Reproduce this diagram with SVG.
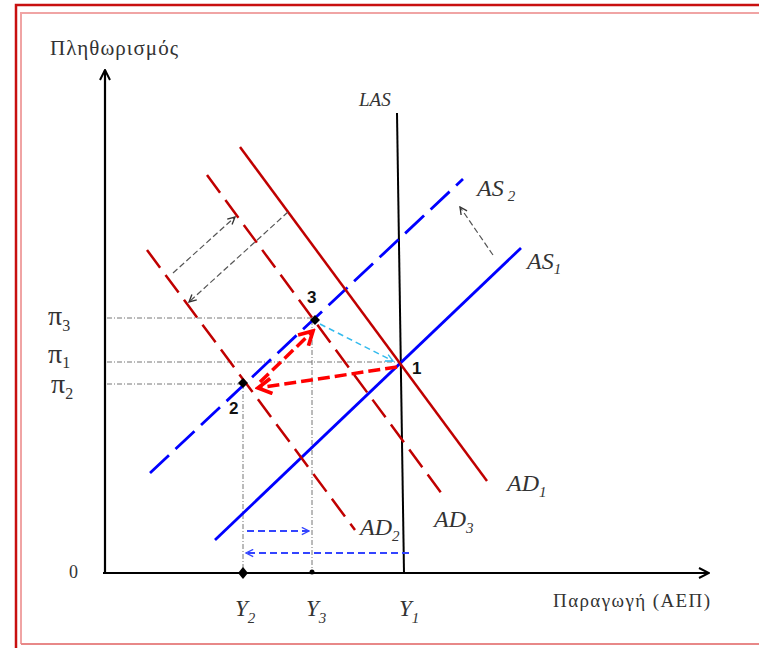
<svg xmlns="http://www.w3.org/2000/svg" width="759" height="648" viewBox="0 0 759 648">
<defs>
<style>
.lbl{font-family:"Liberation Serif","DejaVu Serif",serif;fill:#333}
.it{font-family:"Liberation Serif","DejaVu Serif",serif;font-style:italic;fill:#333}
.num{font-family:"Liberation Sans","DejaVu Sans",sans-serif;font-weight:bold;font-size:17px;fill:#111}
.guide{stroke:#777;stroke-width:1;stroke-dasharray:5 2 1 2;fill:none}
.ad{stroke:#c00000;stroke-width:2.5;fill:none}
.as{stroke:#0000ff;stroke-width:2.8;fill:none}
</style>
<marker id="axisHead" viewBox="0 0 12 12" refX="11" refY="6" markerWidth="12" markerHeight="12" markerUnits="userSpaceOnUse" orient="auto"><path d="M1,1 L11,6 L1,11" fill="none" stroke="#000" stroke-width="2"/></marker>
<marker id="redHead" viewBox="0 0 12 12" refX="10" refY="6" markerWidth="18" markerHeight="18" markerUnits="userSpaceOnUse" orient="auto"><path d="M1,1 L10,6 L1,11" fill="none" stroke="#ff0000" stroke-width="2.5"/></marker>
<marker id="greyHead" viewBox="0 0 10 10" refX="9" refY="5" markerWidth="9" markerHeight="9" markerUnits="userSpaceOnUse" orient="auto"><path d="M1,1 L9,5 L1,9" fill="none" stroke="#333" stroke-width="1.5"/></marker>
<marker id="blueHead" viewBox="0 0 10 10" refX="9" refY="5" markerWidth="9" markerHeight="9" markerUnits="userSpaceOnUse" orient="auto"><path d="M1,1 L9,5 L1,9" fill="none" stroke="#3344ff" stroke-width="1.5"/></marker>
<marker id="cyanHead" viewBox="0 0 10 10" refX="9" refY="5" markerWidth="9" markerHeight="9" markerUnits="userSpaceOnUse" orient="auto"><path d="M1,1 L9,5 L1,9" fill="none" stroke="#33bbee" stroke-width="1.5"/></marker>
</defs>
<rect width="759" height="648" fill="#fff"/>
<g id="frame">
<path d="M16,648 V5 H759" fill="none" stroke="#c81010" stroke-width="2.5"/>
<path d="M21,644 V13 H759" fill="none" stroke="#f0a4a4" stroke-width="2"/>
<path d="M21,644 H759" fill="none" stroke="#e88888" stroke-width="2"/>
</g>
<g id="axes">
<line x1="105" y1="573" x2="105" y2="70" stroke="#000" stroke-width="2.2" marker-end="url(#axisHead)"/>
<line x1="103" y1="573" x2="709" y2="573" stroke="#000" stroke-width="2.2" marker-end="url(#axisHead)"/>
<text class="lbl" x="50" y="55" font-size="21" textLength="128" lengthAdjust="spacing">Πληθωρισμός</text>
<text class="lbl" x="553" y="607" font-size="19" textLength="157" lengthAdjust="spacing">Παραγωγή (ΑΕΠ)</text>
<text class="lbl" x="69" y="578" font-size="18">0</text>
</g>
<g id="guides">
<line class="guide" x1="107" y1="318" x2="315" y2="318"/>
<line class="guide" x1="107" y1="362" x2="400" y2="362"/>
<line class="guide" x1="107" y1="384" x2="243" y2="384"/>
<line class="guide" x1="243" y1="384" x2="243" y2="573"/>
<line class="guide" x1="312" y1="320" x2="312" y2="573"/>
</g>
<g id="LAS">
<line x1="397" y1="113" x2="404" y2="573" stroke="#000" stroke-width="2"/>
<text class="it" x="359" y="106" font-size="19">LAS</text>
</g>
<g id="AS1">
<line class="as" x1="215" y1="540" x2="521" y2="248"/>
<text class="it" x="527" y="269" font-size="24">AS<tspan font-size="15" dy="5">1</tspan></text>
</g>
<g id="AS2">
<line class="as" x1="150" y1="473" x2="463" y2="179" stroke-dasharray="26 9"/>
<text class="it" x="477" y="196" font-size="24">AS<tspan font-size="15" dx="4" dy="5">2</tspan></text>
</g>
<g id="AD1">
<line class="ad" x1="240" y1="147" x2="487" y2="481"/>
<text class="it" x="507" y="491" font-size="24">AD<tspan font-size="15" dy="6">1</tspan></text>
</g>
<g id="AD3">
<line class="ad" x1="207" y1="175" x2="442" y2="494" stroke-dasharray="22 9"/>
<text class="it" x="434" y="527" font-size="24">AD<tspan font-size="15" dy="6">3</tspan></text>
</g>
<g id="AD2">
<line class="ad" x1="147" y1="250" x2="355" y2="530" stroke-dasharray="22 9"/>
<text class="it" x="360" y="535" font-size="24">AD<tspan font-size="15" dy="6">2</tspan></text>
</g>
<g id="pi-labels">
<text class="lbl" x="48" y="325" font-size="28">π<tspan font-size="16" dy="6">3</tspan></text>
<text class="lbl" x="48" y="363" font-size="28">π<tspan font-size="16" dy="5">1</tspan></text>
<text class="lbl" x="51" y="393" font-size="28">π<tspan font-size="16" dy="6">2</tspan></text>
</g>
<g id="Y-labels">
<path d="M243,567 L248,573 L243,579 L238,573 Z" fill="#000"/>
<circle cx="312" cy="572" r="2.5" fill="#000"/>
<text class="it" x="235" y="616" font-size="23">Y<tspan font-size="15" dy="7">2</tspan></text>
<text class="it" x="306" y="616" font-size="23">Y<tspan font-size="15" dy="7">3</tspan></text>
<text class="it" x="399" y="616" font-size="23">Y<tspan font-size="15" dy="7">1</tspan></text>
</g>
<g id="point1">
<text class="num" x="412" y="374">1</text>
</g>
<g id="point2">
<path d="M243,378 L248,383 L243,388 L238,383 Z" fill="#000"/>
<text class="num" x="229" y="414">2</text>
</g>
<g id="point3">
<path d="M315,315 L320,320 L315,325 L310,320 Z" fill="#000"/>
<text class="num" x="307" y="303">3</text>
</g>
<g id="connectors">
<line x1="397" y1="367" x2="258" y2="388" stroke="#ff0000" stroke-width="3.5" stroke-dasharray="12 5" marker-end="url(#redHead)"/>
<line x1="260" y1="382" x2="313" y2="331" stroke="#ff0000" stroke-width="3.5" stroke-dasharray="12 5" marker-end="url(#redHead)"/>
<line x1="320" y1="324" x2="393" y2="361" stroke="#33bbee" stroke-width="1.5" stroke-dasharray="6 4" marker-end="url(#cyanHead)"/>
<line x1="173" y1="273" x2="235" y2="217" stroke="#555" stroke-width="1.2" stroke-dasharray="6 3" marker-end="url(#greyHead)"/>
<line x1="288" y1="212" x2="189" y2="302" stroke="#555" stroke-width="1.2" stroke-dasharray="6 3" marker-end="url(#greyHead)"/>
<line x1="493" y1="255" x2="460" y2="207" stroke="#555" stroke-width="1.2" stroke-dasharray="6 3" marker-end="url(#greyHead)"/>
<line x1="247" y1="531" x2="309" y2="531" stroke="#3344ff" stroke-width="2" stroke-dasharray="7 4" marker-end="url(#blueHead)"/>
<line x1="409" y1="553" x2="246" y2="553" stroke="#3344ff" stroke-width="2" stroke-dasharray="7 4" marker-end="url(#blueHead)"/>
</g>
</svg>
